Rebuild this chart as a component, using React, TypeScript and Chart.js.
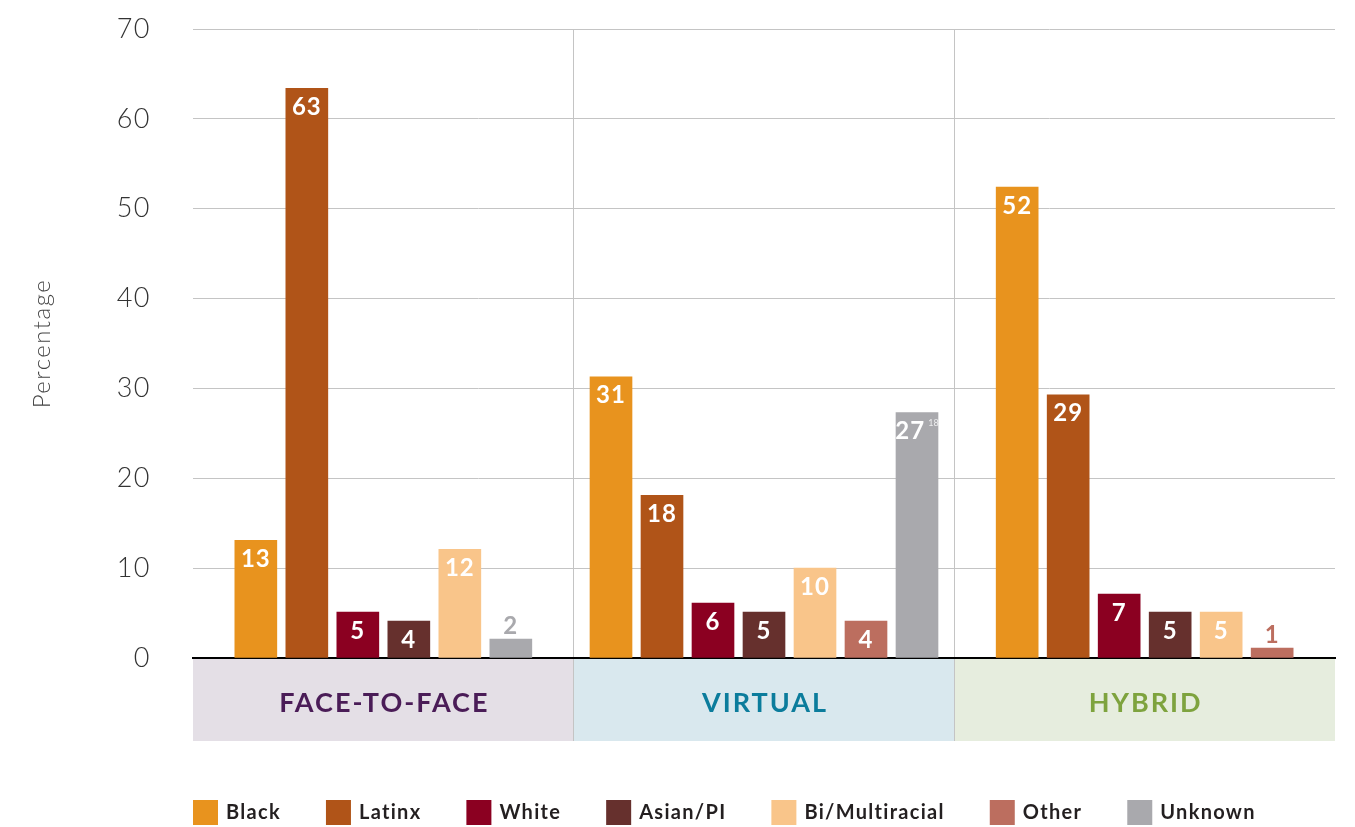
import React, { useEffect, useRef } from 'react';
import { Chart, registerables } from 'chart.js';

Chart.register(...registerables);

// ---------- data ----------
const categories = ['FACE-TO-FACE', 'VIRTUAL', 'HYBRID'];
const categoryTextColors = ['#4A1C57', '#0B7C9C', '#7EA33E'];
const categoryFills = ['#E4DFE6', '#D9E8EE', '#E6EDDE'];

const seriesNames = ['Black', 'Latinx', 'White', 'Asian/PI', 'Bi/Multiracial', 'Other', 'Unknown'];
const seriesColors = ['#E8931E', '#B05418', '#8B0021', '#66302D', '#F9C58A', '#BC6E5F', '#A9A9AD'];

const blackValues = [13.1, 31.3, 52.4];
const latinxValues = [63.4, 18.1, 29.3];
const whiteValues = [5.1, 6.1, 7.1];
const asianValues = [4.1, 5.1, 5.1];
const multiracialValues = [12.1, 10.0, 5.1];
const otherValues: (number | null)[] = [null, 4.1, 1.1];
const unknownValues: (number | null)[] = [2.1, 27.3, null];

const seriesValues = [blackValues, latinxValues, whiteValues, asianValues, multiracialValues, otherValues, unknownValues];

const yMin = 0;
const yMax = 70;
const yStep = 10;
const yTitle = 'Percentage';

// footnote marker: series index, category index, text
const footnoteSeries = [6];
const footnoteCategory = [1];
const footnoteText = ['18'];

const FONT = 'Lato, "Open Sans", sans-serif';

// ---------- plugins ----------
const axisSpacingPlugin = {
  id: 'axisSpacing',
  beforeDraw(chart: any) {
    (chart.ctx as any).letterSpacing = '1.5px';
  },
};

const categoryBandPlugin = {
  id: 'categoryBands',
  beforeDraw(chart: any) {
    const { ctx } = chart;
    const xs = chart.scales.x;
    const half = xs.width / categories.length / 2;
    ctx.save();
    categories.forEach((c, i) => {
      const cx = xs.getPixelForValue(i);
      ctx.fillStyle = categoryFills[i];
      ctx.fillRect(cx - half, xs.top + 1, half * 2, xs.height - 1);
      ctx.fillStyle = categoryTextColors[i];
      ctx.font = `bold 27px ${FONT}`;
      (ctx as any).letterSpacing = '2px';
      ctx.textAlign = 'center';
      ctx.textBaseline = 'middle';
      ctx.fillText(c, cx + 1, xs.top + 45);
    });
    ctx.restore();
  },
};

const barLabelPlugin = {
  id: 'barLabels',
  afterDatasetsDraw(chart: any) {
    const { ctx } = chart;
    ctx.save();
    chart.data.datasets.forEach((ds: any, di: number) => {
      const meta = chart.getDatasetMeta(di);
      meta.data.forEach((bar: any, i: number) => {
        const v = ds.data[i];
        if (v === null || v === undefined) return;
        const { x, y, base } = bar.getProps(['x', 'y', 'base'], true);
        const h = base - y;
        const text = String(Math.round(v));
        const mainFont = `bold 24px ${FONT}`;
        const noteFont = `9px ${FONT}`;
        ctx.textBaseline = 'middle';
        let ty: number;
        let color: string;
        if (h > 30) {
          ty = y + 19;
          color = '#ffffff';
        } else {
          ty = y - 13;
          color = ds.backgroundColor;
        }
        let note = '';
        footnoteSeries.forEach((s, k) => {
          if (s === di && footnoteCategory[k] === i) note = footnoteText[k];
        });
        ctx.font = mainFont;
        (ctx as any).letterSpacing = '1px';
        const w = ctx.measureText(text).width;
        let nw = 0;
        if (note) {
          ctx.font = noteFont;
          (ctx as any).letterSpacing = '0px';
          nw = ctx.measureText(note).width + 3;
        }
        const start = x - (w + nw) / 2;
        ctx.font = mainFont;
        (ctx as any).letterSpacing = '1px';
        ctx.textAlign = 'left';
        ctx.fillStyle = color;
        ctx.fillText(text, start, ty);
        if (note) {
          ctx.font = noteFont;
          (ctx as any).letterSpacing = '0px';
          ctx.fillStyle = 'rgba(255,255,255,0.8)';
          ctx.fillText(note, start + w + 3, ty - 9);
        }
      });
    });
    ctx.restore();
  },
};

const legendPlugin = {
  id: 'bottomLegend',
  afterDraw(chart: any) {
    const { ctx } = chart;
    ctx.save();
    let x = chart.chartArea.left;
    const top = chart.scales.x.bottom + 59;
    ctx.font = `bold 20px ${FONT}`;
    (ctx as any).letterSpacing = '1.3px';
    ctx.textBaseline = 'middle';
    ctx.textAlign = 'left';
    chart.data.datasets.forEach((ds: any) => {
      ctx.fillStyle = ds.backgroundColor;
      ctx.fillRect(x, top, 25, 25);
      ctx.fillStyle = '#231F20';
      ctx.fillText(ds.label, x + 33, top + 13);
      const w = ctx.measureText(ds.label).width;
      x += 33 + w + 45;
    });
    ctx.restore();
  },
};

export default function App() {
  const canvasRef = useRef<HTMLCanvasElement | null>(null);

  useEffect(() => {
    if (!canvasRef.current) return;
    const chart = new Chart(canvasRef.current, {
      type: 'bar',
      data: {
        labels: categories,
        datasets: seriesNames.map((name, i) => ({
          label: name,
          data: seriesValues[i],
          backgroundColor: seriesColors[i],
          borderWidth: 0,
          skipNull: true,
          barThickness: 51,
          maxBarThickness: 42,
        })) as any,
      },
      options: {
        responsive: false,
        animation: false,
        layout: { padding: { top: 29, left: 0, right: 20, bottom: 86 } },
        plugins: {
          legend: { display: false },
          tooltip: { enabled: false },
        },
        scales: {
          x: {
            offset: true,
            ticks: { display: false },
            grid: {
              offset: true,
              drawOnChartArea: true,
              drawTicks: true,
              tickLength: 83,
              lineWidth: 1,
              color: (c: any) => (c.index === 1 || c.index === 2 ? '#C4C4C4' : 'rgba(0,0,0,0)'),
            },
            border: { display: true, color: '#000000', width: 2 },
            afterFit: (scale: any) => {
              scale.height = 83;
              scale.paddingTop = 0;
              scale.paddingBottom = 0;
            },
          },
          y: {
            min: yMin,
            max: yMax,
            ticks: {
              stepSize: yStep,
              padding: 42,
              color: '#333333',
              font: { family: FONT, size: 27, weight: '300' as any },
            },
            grid: { color: '#C4C4C4', lineWidth: 1, drawTicks: false },
            border: { display: false },
            title: {
              display: true,
              text: yTitle,
              color: '#444444',
              font: { family: FONT, size: 24, weight: '300' as any },
              padding: { top: 28, bottom: 0 },
            },
            afterFit: (scale: any) => {
              scale.width = 193;
              scale.paddingTop = 0;
              scale.paddingBottom = 0;
            },
          },
        },
      },
      plugins: [axisSpacingPlugin, categoryBandPlugin, barLabelPlugin, legendPlugin],
    });
    return () => chart.destroy();
  }, []);

  return (
    <div style={{ position: 'absolute', left: 0, top: 0, width: 1355, height: 827, background: '#fff' }}>
      <canvas ref={canvasRef} width={1355} height={827} />
    </div>
  );
}
